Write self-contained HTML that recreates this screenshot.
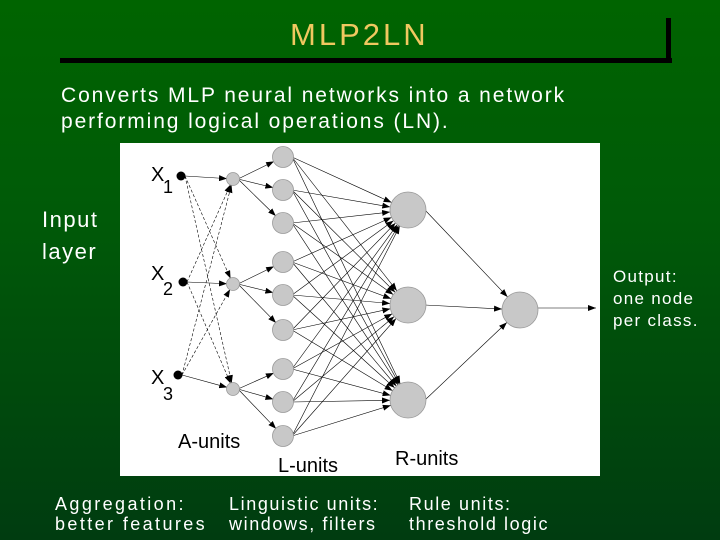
<!DOCTYPE html>
<html><head><meta charset="utf-8"><style>
html,body{margin:0;padding:0}
body{width:720px;height:540px;overflow:hidden;background:linear-gradient(#006400 0%,#005a08 40%,#003c10 100%);font-family:"Liberation Sans",sans-serif;position:relative}
.t{position:absolute;color:#fff;font-size:20px;line-height:26px;white-space:nowrap}
</style></head><body>
<div style="position:absolute;left:60px;top:58px;width:612px;height:5px;background:#000"></div>
<div style="position:absolute;left:666px;top:18px;width:5px;height:45px;background:#000"></div>
<div class="t" style="left:290px;top:17px;color:#f0c860;font-size:31px;line-height:36px;letter-spacing:3px">MLP2LN</div>
<div class="t" style="left:61px;top:83px;font-size:21px;letter-spacing:1.9px">Converts MLP neural networks into a network<br>performing logical operations (LN).</div>
<div class="t" style="left:42px;top:204px;font-size:22px;line-height:32px;letter-spacing:1.5px">Input<br>layer</div>
<div class="t" style="left:613px;top:266px;font-size:17px;line-height:22px;letter-spacing:1.3px">Output:<br>one node<br>per class.</div>
<div class="t" style="left:55px;top:494px;font-size:18px;line-height:20px;letter-spacing:2.4px">Aggregation:<br>better features</div>
<div class="t" style="left:229px;top:494px;font-size:18px;line-height:20px;letter-spacing:1.6px">Linguistic units:<br>windows, filters</div>
<div class="t" style="left:409px;top:494px;font-size:18px;line-height:20px;letter-spacing:1.6px">Rule units:<br>threshold logic</div>
<svg id="s" width="720" height="540" style="position:absolute;left:0;top:0" xmlns="http://www.w3.org/2000/svg">
<defs><marker id="a" markerWidth="8" markerHeight="6" refX="8" refY="3" orient="auto" markerUnits="userSpaceOnUse"><path d="M0,0L8,3L0,6z" fill="#000"/></marker></defs>
<rect x="120" y="143" width="480" height="333" fill="#fff"/>
<g id="g" stroke="#000" stroke-width="0.6" fill="none"></g>
<g id="n" fill="#c8c8c8" stroke="#999" stroke-width="0.8"></g>
<g font-family="Liberation Sans,sans-serif" font-size="20" fill="#000">
<text x="151" y="181">X</text><text x="163" y="193" font-size="18">1</text>
<text x="151" y="280">X</text><text x="163" y="295" font-size="18">2</text>
<text x="151" y="384">X</text><text x="163" y="400" font-size="18">3</text>
<text x="178" y="448">A-units</text>
<text x="278" y="472">L-units</text>
<text x="395" y="465">R-units</text>
</g>
</svg>
<script>
var ns="http://www.w3.org/2000/svg",g=document.getElementById('g'),n=document.getElementById('n');
function L(x1,y1,x2,y2,r,d){var dx=x2-x1,dy=y2-y1,l=Math.hypot(dx,dy);var e=document.createElementNS(ns,'line');
e.setAttribute('x1',x1);e.setAttribute('y1',y1);e.setAttribute('x2',x2-dx/l*r);e.setAttribute('y2',y2-dy/l*r);
e.setAttribute('marker-end','url(#a)');if(d)e.setAttribute('stroke-dasharray','3,2');g.appendChild(e);}
function C(x,y,r,f){var e=document.createElementNS(ns,'circle');e.setAttribute('cx',x);e.setAttribute('cy',y);e.setAttribute('r',r);if(f){e.setAttribute('fill',f);e.setAttribute('stroke','none')}n.appendChild(e);}
var X=[[181,176],[183,282],[178,375]],A=[[233,179],[233,284],[233,389]],Ly=[157,190,223,262,295,330,369,402,436],R=[[408,210],[408,305],[408,400]],O=[520,310];
for(var i=0;i<3;i++)for(var j=0;j<3;j++)L(X[i][0]+4,X[i][1],A[j][0],A[j][1],6,i!=j);
for(var j=0;j<3;j++)for(var k=0;k<3;k++)L(A[j][0]+5,A[j][1],283,Ly[j*3+k],10);
for(var k=0;k<9;k++)for(var r=0;r<3;r++)L(292,Ly[k],R[r][0],R[r][1],18);
for(var r=0;r<3;r++)L(R[r][0]+17,R[r][1],O[0],O[1],18);
L(538,308,596,308,0);
X.forEach(function(p){C(p[0],p[1],4.5,'#000')});
A.forEach(function(p){C(p[0],p[1],6.5)});
Ly.forEach(function(y){C(283,y,10.5)});
R.forEach(function(p){C(p[0],p[1],18)});
C(O[0],O[1],18);
</script>
</body></html>
